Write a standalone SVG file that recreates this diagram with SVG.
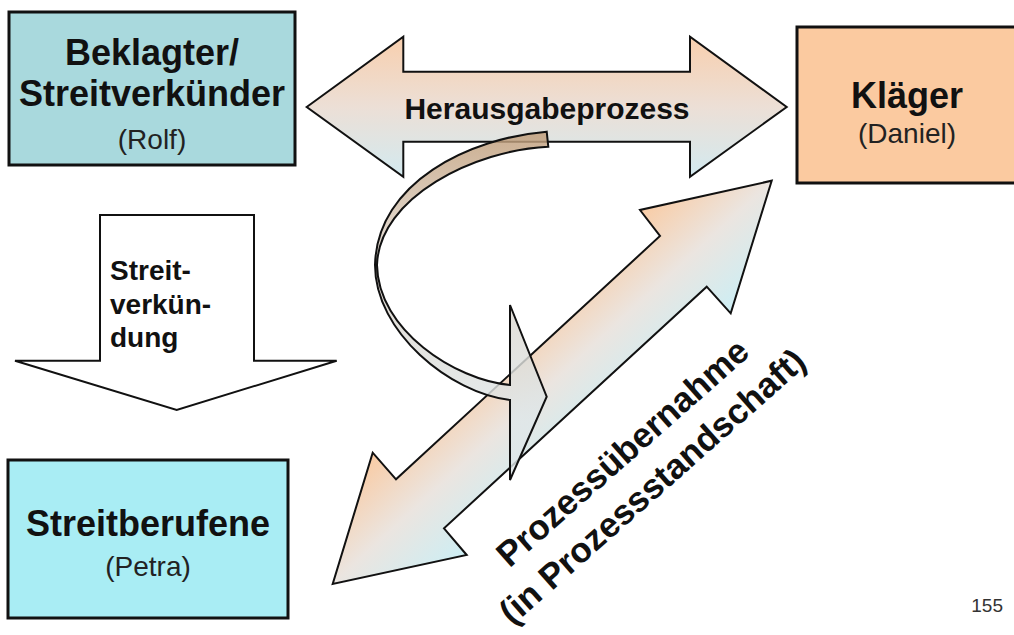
<svg xmlns="http://www.w3.org/2000/svg" width="1014" height="635" viewBox="0 0 1014 635">
  <defs>
    <linearGradient id="gradH" gradientUnits="userSpaceOnUse" x1="0" y1="37" x2="0" y2="177">
      <stop offset="0" stop-color="#f8cfae"/>
      <stop offset="0.5" stop-color="#ecdfd6"/>
      <stop offset="1" stop-color="#d3eaf0"/>
    </linearGradient>
    <linearGradient id="gradD" gradientUnits="userSpaceOnUse" x1="505.6" y1="331.5" x2="598.8" y2="433.3">
      <stop offset="0" stop-color="#f9cba4"/>
      <stop offset="0.5" stop-color="#ebe5e0"/>
      <stop offset="1" stop-color="#cdeef4"/>
    </linearGradient>
    <linearGradient id="gradC" gradientUnits="userSpaceOnUse" x1="0" y1="130" x2="0" y2="420">
      <stop offset="0" stop-color="#bf9b76"/>
      <stop offset="0.35" stop-color="#dacdbf"/>
      <stop offset="1" stop-color="#dfe7e9"/>
    </linearGradient>
    <style>
      .box { stroke: #111; stroke-width: 3; }
      .arrow { stroke: #111; stroke-width: 2; stroke-linejoin: miter; }
      .title { font-family: "Liberation Sans", Arial, sans-serif; font-weight: bold; font-size: 36px; fill: #111; text-anchor: middle; }
      .sub { font-family: "Liberation Sans", Arial, sans-serif; font-size: 28px; fill: #222; text-anchor: middle; }
      .label { font-family: "Liberation Sans", Arial, sans-serif; font-weight: bold; fill: #111; }
    </style>
  </defs>

  <rect width="1014" height="635" fill="#ffffff"/>

  <!-- connectors -->
  <g id="connectors">
    <g id="herausgabeprozess">
      <polygon class="arrow" fill="url(#gradH)" points="306.7,107 403.3,36.7 403.3,71.7 690,71.7 690,36.7 786.7,107 690,176.7 690,141.7 403.3,141.7 403.3,176.7"/>
      <text class="label" x="547" y="119" font-size="30" text-anchor="middle">Herausgabeprozess</text>
    </g>
    <g id="streitverkuendung">
      <polygon class="arrow" fill="#ffffff" points="100,215 254,215 254,360.7 336.7,360.7 176.7,410 15,360.7 100,360.7"/>
      <text class="label" font-size="28">
        <tspan x="110" y="280">Streit-</tspan>
        <tspan x="110" y="314">verkün-</tspan>
        <tspan x="110" y="347">dung</tspan>
      </text>
    </g>
    <g id="prozessuebernahme">
      <polygon class="arrow" fill="url(#gradD)" points="771.7,180.7 730.7,313.3 706.7,286.7 444,528.3 466.7,555 332.7,584 372.7,452.7 396,479.3 660,236 640,210"/>
      <g transform="translate(637,469) rotate(-41.5)">
        <text class="label" font-size="35" text-anchor="middle" x="0" y="-10">Prozessübernahme</text>
        <text class="label" font-size="35" text-anchor="middle" x="0" y="35">(in Prozessstandschaft)</text>
      </g>
    </g>
    <!-- curved ribbon arrow from the lawsuit down to the takeover -->
    <path id="uebergang" class="arrow" stroke-width="1.8" fill="url(#gradC)" fill-opacity="0.82"
      d="M546.7,131.7 C470,138 377,182 375,265 C375,332 450,393 510,400 L510,480 L546.7,396.7 L510,305 L510,385 C455,380 378,330 377,265 C379,197 475,150 548.3,146.7 Z"/>
  </g>

  <!-- parties -->
  <g id="beklagter">
    <rect class="box" x="9" y="12" width="286" height="153" fill="#a9d9dd"/>
    <text class="title" x="152" y="65">Beklagter/</text>
    <text class="title" x="152" y="106">Streitverkünder</text>
    <text class="sub" x="152" y="149">(Rolf)</text>
  </g>

  <g id="klaeger">
    <rect class="box" x="797" y="27" width="230" height="156" fill="#fbcaa0"/>
    <text class="title" x="907" y="108">Kläger</text>
    <text class="sub" x="907" y="143">(Daniel)</text>
  </g>

  <g id="streitberufene">
    <rect class="box" x="8" y="460" width="280" height="158" fill="#a9edf4"/>
    <text class="title" x="148" y="536">Streitberufene</text>
    <text class="sub" x="148" y="576">(Petra)</text>
  </g>

  <text x="1003" y="612" font-family="Liberation Sans, Arial, sans-serif" font-size="19" fill="#333" text-anchor="end">155</text>
</svg>
